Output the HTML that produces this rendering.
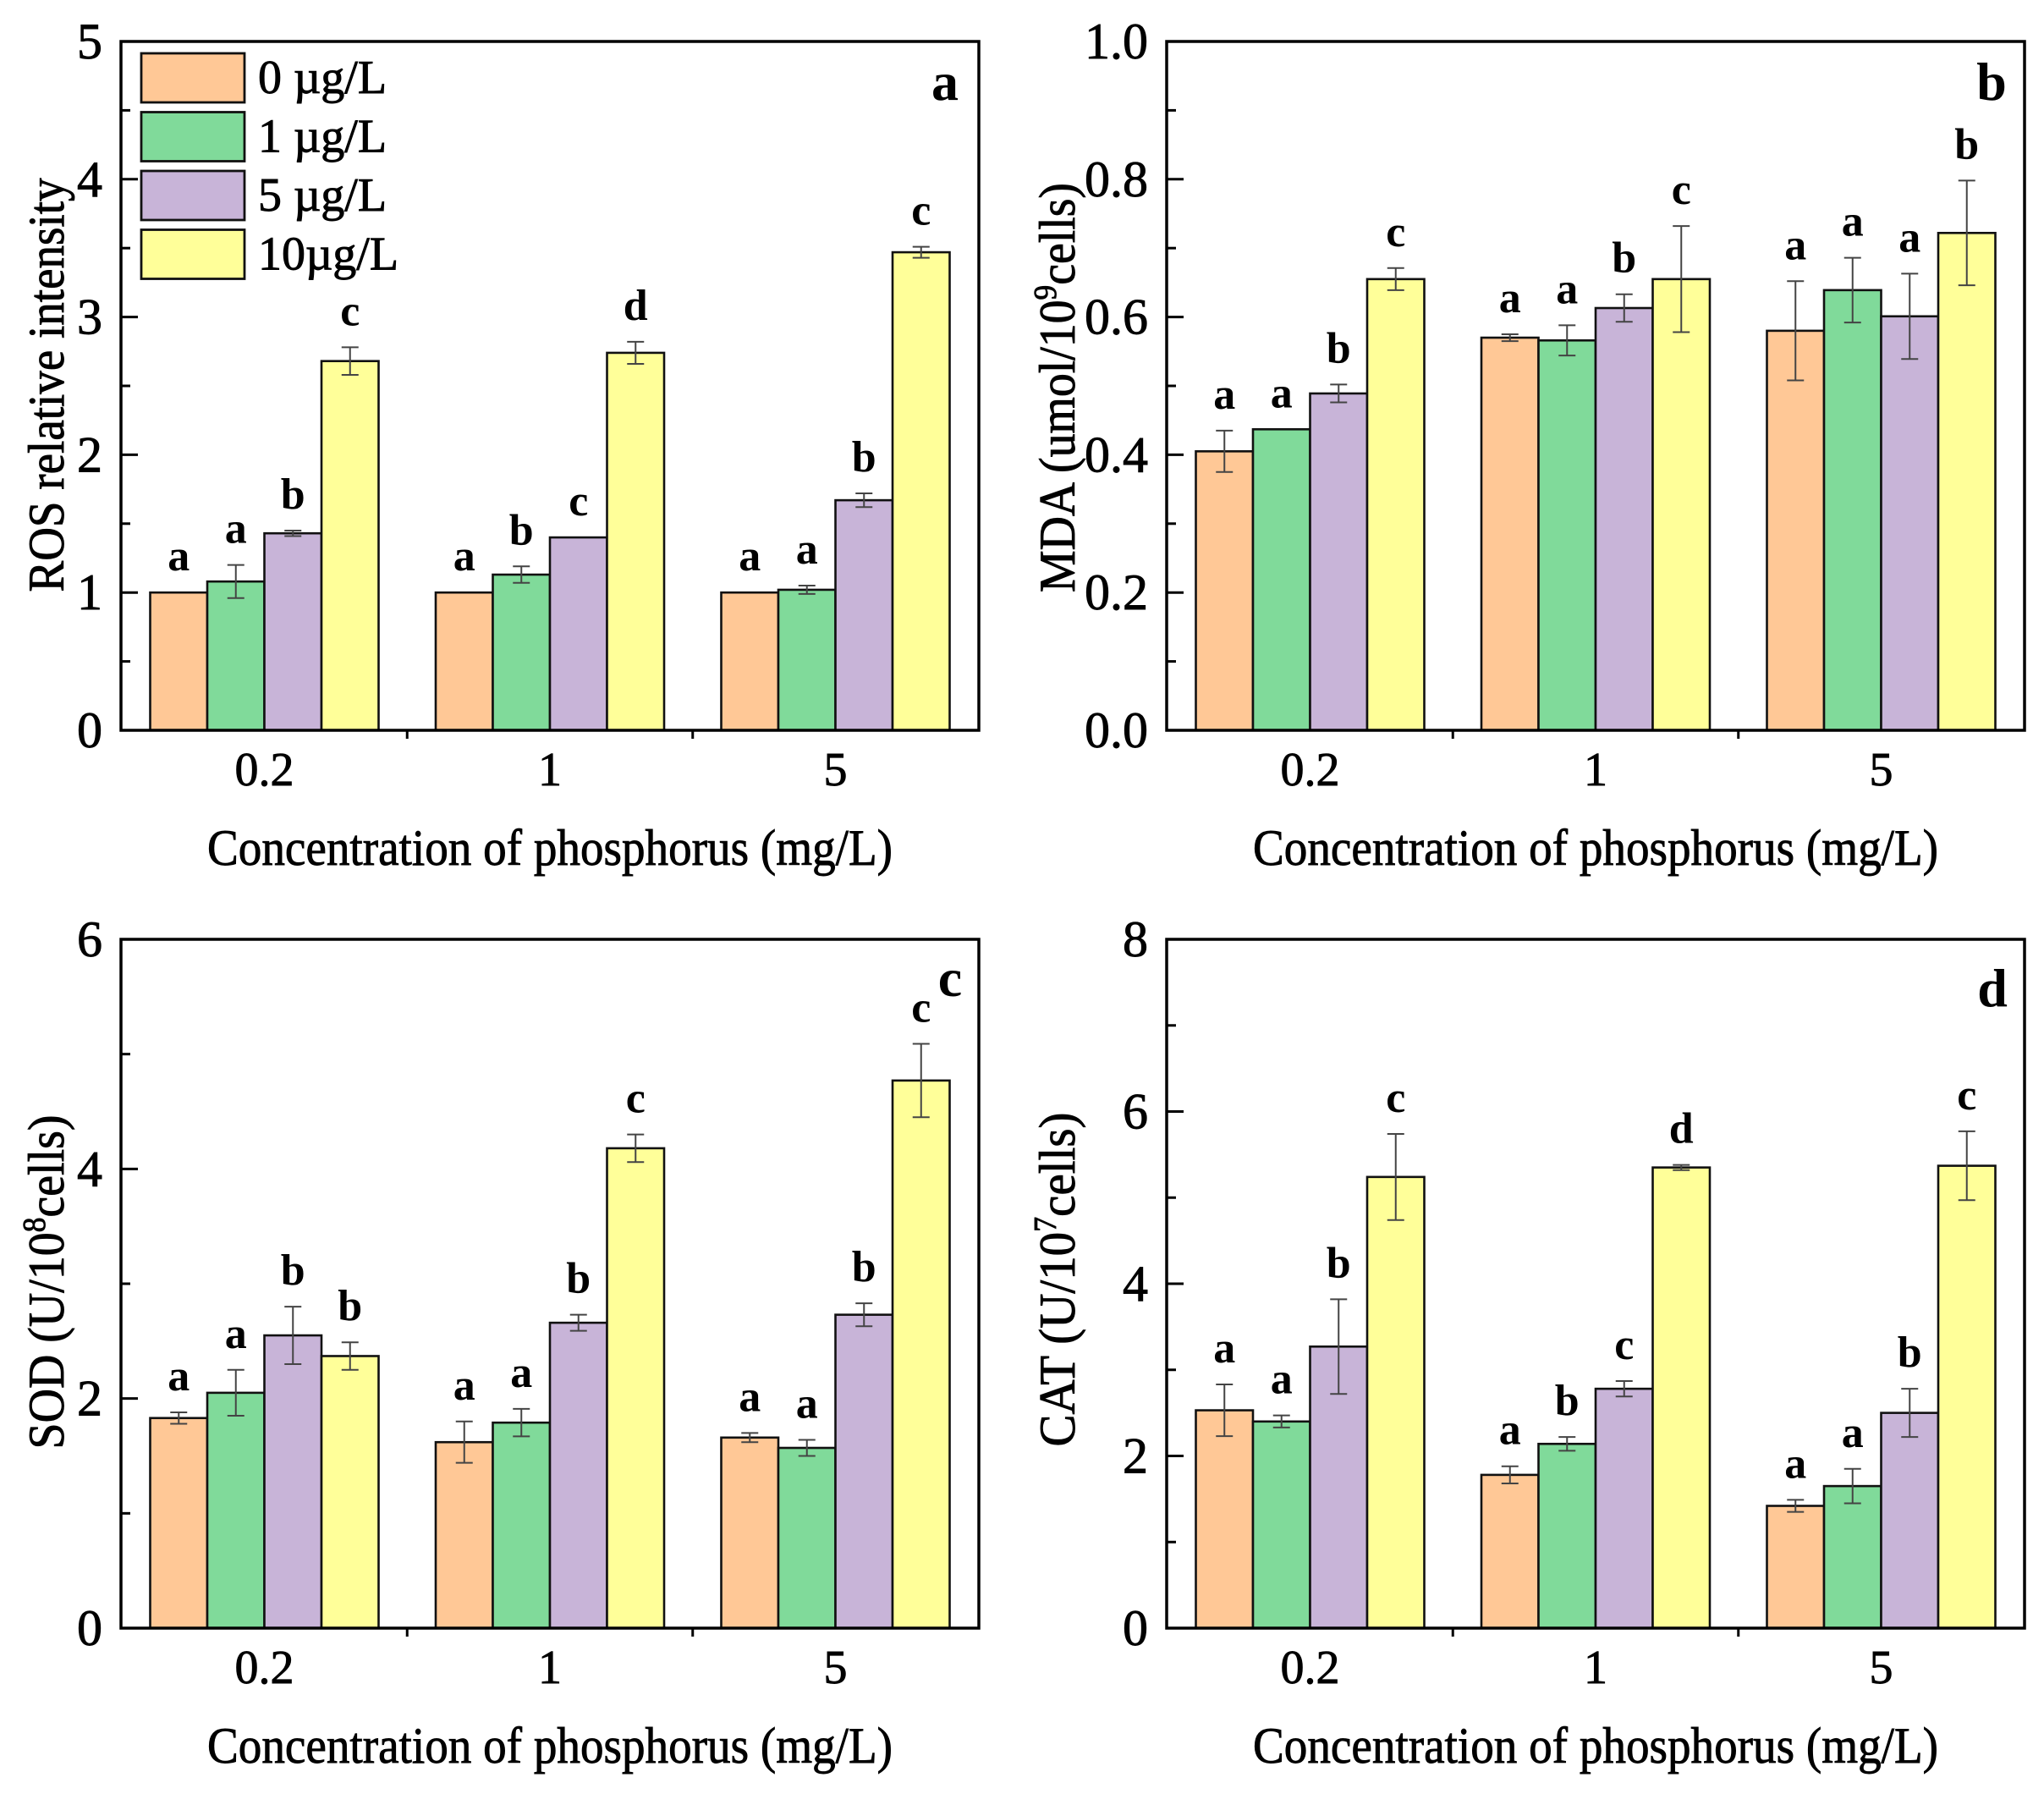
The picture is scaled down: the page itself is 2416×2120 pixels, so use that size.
<!DOCTYPE html>
<html><head><meta charset="utf-8">
<style>
html,body{margin:0;padding:0;background:#fff;}
svg{display:block;}
text{font-family:"Liberation Serif","Times New Roman",serif;fill:#000;}
text.r{stroke:#000;stroke-width:0.9;}
</style></head>
<body>
<svg id="s" xmlns="http://www.w3.org/2000/svg" width="2416" height="2120" viewBox="0 0 2416 2120"></svg>
<script>
var NS="http://www.w3.org/2000/svg",S=document.getElementById('s');
function el(t,a,txt){var e=document.createElementNS(NS,t);for(var k in a)e.setAttribute(k,a[k]);if(txt!==undefined)e.textContent=txt;S.appendChild(e);return e;}
var COL=["#FFC896","#80DA9A","#C8B4D8","#FFFF99"];
var W=1014,H=814,BW=67.5;
var panels=[
 {x:143,y:49,max:5,maj:1,min:0.5,fmt:function(v){return v.toFixed(0)},
  title:"ROS relative intensity",tx:54,ty:455,tl:489,sup:null,
  v:[[1,0],[1.08,.12],[1.43,.02],[2.68,.1],[1,0],[1.13,.06],[1.40,0],[2.74,.08],[1,0],[1.02,.03],[1.67,.05],[3.47,.04]],
  l:"aabcabcdaabc",pl:"a",px:1117,py:118,legend:true},
 {x:1379,y:49,max:1,maj:.2,min:.1,fmt:function(v){return v.toFixed(1)},
  title:"MDA (umol/10",sup:"9",after:"cells)",tx:1249,ty:458,tl:484,
  v:[[.405,.03],[.437,0],[.489,.013],[.655,.016],[.57,.005],[.566,.022],[.613,.02],[.655,.077],[.58,.072],[.639,.047],[.601,.062],[.722,.076]],
  l:"aabcaabcaaab",pl:"b",px:2354,py:118},
 {x:143,y:1110,max:6,maj:2,min:1,fmt:function(v){return v.toFixed(0)},
  title:"SOD (U/10",sup:"8",after:"cells)",tx:54,ty:1515,tl:395,
  v:[[1.83,.05],[2.05,.2],[2.55,.25],[2.37,.12],[1.62,.18],[1.79,.12],[2.66,.07],[4.18,.12],[1.66,.04],[1.57,.07],[2.73,.1],[4.77,.32]],
  l:"aabbaabcaabc",pl:"c",px:1123,py:1177},
 {x:1379,y:1110,max:8,maj:2,min:1,fmt:function(v){return v.toFixed(0)},
  title:"CAT (U/10",sup:"7",after:"cells)",tx:1249,ty:1512,tl:395,
  v:[[2.53,.3],[2.4,.07],[3.27,.55],[5.24,.5],[1.78,.1],[2.14,.08],[2.78,.09],[5.35,.03],[1.42,.07],[1.65,.2],[2.5,.28],[5.37,.4]],
  l:"aabcabcdaabc",pl:"d",px:2355,py:1189}
];
panels.forEach(function(p){
 var x0=p.x,y0=p.y,yb=y0+H,sc=H/p.max;
 function Y(v){return yb-v*sc;}
 for(var g=0;g<3;g++){
  for(var i=0;i<4;i++){
   var k=g*4+i,bx=x0+34.5+g*5*BW+i*BW,v=p.v[k][0],e=p.v[k][1];
   el('rect',{x:bx,y:Y(v),width:BW,height:v*sc,fill:COL[i],stroke:"#111","stroke-width":2.6});
   var cx=bx+BW/2,top=Y(v);
   if(e>0){
    el('line',{x1:cx,y1:Y(v+e),x2:cx,y2:Y(v-e),stroke:"#444","stroke-width":2});
    el('line',{x1:cx-10,y1:Y(v+e),x2:cx+10,y2:Y(v+e),stroke:"#444","stroke-width":2});
    el('line',{x1:cx-10,y1:Y(v-e),x2:cx+10,y2:Y(v-e),stroke:"#444","stroke-width":2});
    top=Y(v+e);
   }
   el('text',{x:cx,y:top-26,"text-anchor":"middle","font-size":52,"font-weight":"bold"},p.l[k]);
  }
  el('text',{"class":"r",x:x0+34.5+g*5*BW+2*BW,y:(y0-49)+928,"text-anchor":"middle","font-size":56},["0.2","1","5"][g]);
 }
 [1,2].forEach(function(j){var tx=x0+34.5+j*5*BW-BW/2;el('line',{x1:tx,y1:yb,x2:tx,y2:yb+10,stroke:"#000","stroke-width":3});});
 var n=Math.round(p.max/p.min);
 for(var t=0;t<=n;t++){
  var v=t*p.min,yy=Y(v),major=Math.abs(v/p.maj-Math.round(v/p.maj))<1e-6;
  el('line',{x1:x0,y1:yy,x2:x0+(major?20:11),y2:yy,stroke:"#000","stroke-width":3});
  if(major) el('text',{"class":"r",x:x0-22,y:yy+20,"text-anchor":"end","font-size":60},p.fmt(v));
 }
 el('rect',{x:x0,y:y0,width:W,height:H,fill:"none",stroke:"#000","stroke-width":3.5});
 el('text',{"class":"r",x:x0+W/2,y:y0-49+1022,"text-anchor":"middle","font-size":60,textLength:810,lengthAdjust:"spacingAndGlyphs"},"Concentration of phosphorus (mg/L)");
 var yt=el('text',{"class":"r",x:0,y:0,"text-anchor":"middle","font-size":60,transform:"translate("+(p.tx+21)+","+p.ty+") rotate(-90)",textLength:p.tl,lengthAdjust:"spacingAndGlyphs"});
 if(p.sup){
  yt.appendChild(document.createTextNode(p.title));
  var ts=document.createElementNS(NS,'tspan');ts.setAttribute('dy',-22);ts.setAttribute('font-size',38);ts.textContent=p.sup;yt.appendChild(ts);
  var ta=document.createElementNS(NS,'tspan');ta.setAttribute('dy',22);ta.textContent=p.after;yt.appendChild(ta);
 } else yt.textContent=p.title;
 el('text',{x:p.px,y:p.py,"text-anchor":"middle","font-size":64,"font-weight":"bold"},p.pl);
 if(p.legend){
  var labs=["0 \u00b5g/L","1 \u00b5g/L","5 \u00b5g/L","10\u00b5g/L"];
  for(var i=0;i<4;i++){
   var ry=63+i*69.5;
   el('rect',{x:167,y:ry,width:122,height:58,fill:COL[i],stroke:"#111","stroke-width":2.8});
   el('text',{"class":"r",x:305,y:ry+47,"font-size":56},labs[i]);
  }
 }
});
</script>
</body></html>
